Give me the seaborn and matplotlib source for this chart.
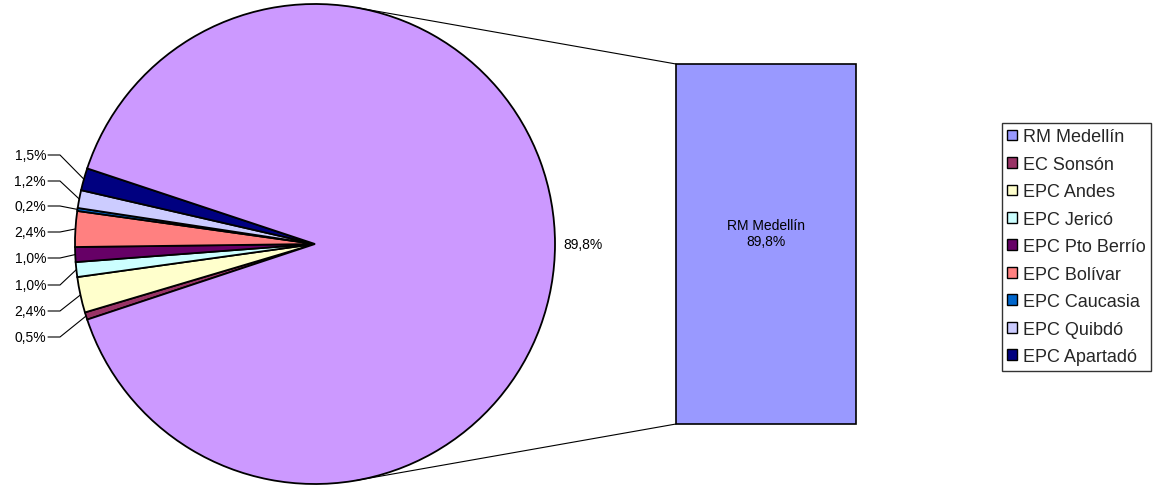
import numpy as np
import seaborn as sns
import matplotlib.pyplot as plt
from matplotlib.patches import Patch

# -------------------------------------------------------------------
# Data
# -------------------------------------------------------------------
categories = ["RM Medellín", "EC Sonsón", "EPC Andes", "EPC Jericó", "EPC Pto Berrío",
              "EPC Bolívar", "EPC Caucasia", "EPC Quibdó", "EPC Apartadó"]
shares = [89.8, 0.5, 2.4, 1.0, 1.0, 2.4, 0.2, 1.2, 1.5]
slice_colors = ["#CC99FF", "#993366", "#FFFFCC", "#CCFFFF", "#660066",
                "#FF8080", "#0066CC", "#CCCCFF", "#000080"]
bar_color = "#9999FF"

# -------------------------------------------------------------------
# Layout (pixels)
# -------------------------------------------------------------------
W, H = 1161, 489
CX, CY, R = 315, 489 - 245, 240
BAR_L, BAR_R, BAR_T, BAR_B = 676, 856, 65, 425
label_y_px = [338, 312, 286, 259, 233, 207, 182, 156]  # bottom -> top
LABEL_X, ELBOW_X = 46, 60

sns.set_theme(style="white")
plt.rcParams["font.family"] = ["Liberation Sans", "DejaVu Sans"]


def pct(v):
    return f"{v:.1f}%".replace(".", ",")


fig = plt.figure(figsize=(W / 100, H / 100), dpi=100)
fig.patch.set_facecolor("white")

# -------------------------------------------------------------------
# Pie: small slices first (clockwise from lower left), then Medellín
# -------------------------------------------------------------------
ax = fig.add_axes([0, 0, 1, 1])
pie_vals = shares[1:] + shares[:1]
pie_cols = slice_colors[1:] + slice_colors[:1]
small_total = sum(shares[1:])
start = 180 + small_total / 100 * 360 / 2

wedges, _ = ax.pie(pie_vals, colors=pie_cols, startangle=start, counterclock=False,
                   center=(CX, CY), radius=R,
                   wedgeprops=dict(edgecolor="black", linewidth=1.3))
ax.set_xlim(0, W)
ax.set_ylim(0, H)
ax.axis("off")

# leader lines + labels for the small slices
for w, v, ypx in zip(wedges[:-1], pie_vals[:-1], label_y_px):
    mid = np.deg2rad((w.theta1 + w.theta2) / 2)
    ax_x = CX + R * np.cos(mid)
    ax_y = CY + R * np.sin(mid)
    ly = H - ypx
    ax.plot([LABEL_X + 2, ELBOW_X, ax_x], [ly, ly, ax_y], color="black", lw=0.8)
    ax.text(LABEL_X, ly, pct(v), ha="right", va="center", fontsize=10, color="black")

# Medellín label
mid = np.deg2rad((wedges[-1].theta1 + wedges[-1].theta2) / 2)
ax.text(CX + (R + 8) * np.cos(mid), CY + (R + 8) * np.sin(mid), pct(shares[0]),
        ha="left", va="center", fontsize=10, color="black")

# connector lines (tangent from bar corners to the pie)
for corner_y, sign in [(H - BAR_T, 1), (H - BAR_B, -1)]:
    dx, dy = BAR_L - CX, corner_y - CY
    d = np.hypot(dx, dy)
    ang = np.arctan2(dy, dx) + sign * np.arccos(R / d)
    ax.plot([CX + R * np.cos(ang), BAR_L], [CY + R * np.sin(ang), corner_y],
            color="black", lw=0.8)

# -------------------------------------------------------------------
# Bar of the selected slice
# -------------------------------------------------------------------
ax2 = fig.add_axes([BAR_L / W, (H - BAR_B) / H, (BAR_R - BAR_L) / W, (BAR_B - BAR_T) / H])
sns.barplot(x=[categories[0]], y=[shares[0]], ax=ax2, width=1.0, color=bar_color,
            saturation=1, edgecolor="black", linewidth=1.2)
for p in ax2.patches:
    p.set_clip_on(False)
ax2.set_xlim(-0.5, 0.5)
ax2.set_ylim(0, shares[0])
ax2.axis("off")
ax2.text(0, shares[0] * 0.53, f"{categories[0]}\n{pct(shares[0])}", ha="center",
         va="center", fontsize=10, color="black", linespacing=1.2)

# -------------------------------------------------------------------
# Legend
# -------------------------------------------------------------------
legend_cols = [bar_color] + slice_colors[1:]
handles = [Patch(facecolor=c, edgecolor="black", linewidth=1.0) for c in legend_cols]
fig.legend(handles, categories, loc="upper left",
           bbox_to_anchor=(1002 / W, 1 - 124 / H), frameon=True, fancybox=False,
           edgecolor="black", fontsize=13, handlelength=0.55, handleheight=0.55,
           handletextpad=0.3, labelspacing=0.58, borderpad=0.3, borderaxespad=0)
leg = fig.legends[0]
leg.get_frame().set_linewidth(1.0)

fig.savefig("out.png", dpi=100, facecolor="white")
plt.close(fig)
